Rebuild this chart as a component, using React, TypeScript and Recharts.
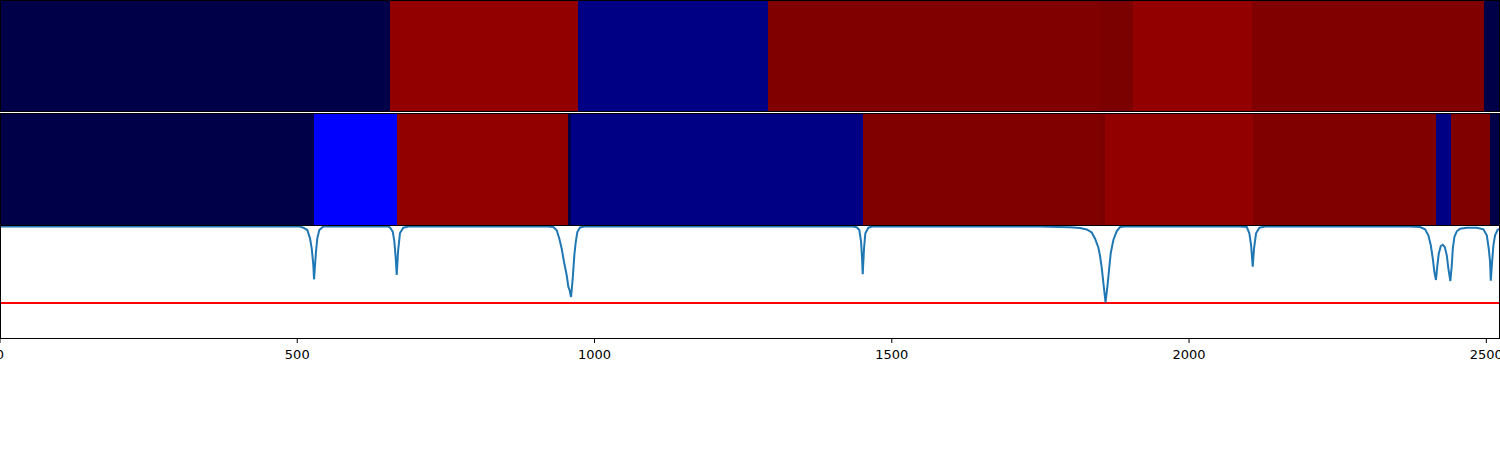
import React from 'react';
import { BarChart, Bar, LineChart, Line, XAxis, YAxis, ReferenceLine } from 'recharts';

// ---------- data ----------
const X_MAX = 2523;
const X_TICKS = [0, 500, 1000, 1500, 2000, 2500];
const THRESHOLD = 0.3125;

// state label -> colour (colormap lookup)
const STATE_COLORS: Record<string, string> = {
  A: '#000048',
  B: '#000085',
  C: '#0000ff',
  D: '#930000',
  E: '#800000',
  F: '#7b0000',
};

// top row: segment boundaries and states
const ROW1_BOUNDS = [0, 656, 972, 1292, 1852, 1906, 2106, 2496, 2523];
const ROW1_STATES = ['A', 'D', 'B', 'E', 'F', 'D', 'E', 'A'];

// second row: segment boundaries and states
const ROW2_BOUNDS = [0, 528, 668, 956, 960.5, 1451.6, 1850.3, 1858.7, 2106.8, 2415.5, 2440.7, 2506.3, 2523];
const ROW2_STATES = ['A', 'C', 'D', 'A', 'B', 'E', 'F', 'D', 'E', 'B', 'E', 'A'];

// bottom panel signal
const SIGNAL_X = [
  0, 504.6, 510.2, 516.9, 521.4, 524.3, 527.0, 528.2, 531.5, 533.7, 537.1, 543.8,
  652.6, 656.0, 660.6, 663.3, 665.6, 667.3, 669.5, 672.8, 678.4, 686.3,
  921.8, 930.7, 936.4, 940.8, 944.8, 948.7, 953.2, 955.9, 958.0, 960.5, 963.3, 966.0, 968.4, 971.1, 975.6, 982.3,
  1434.8, 1441.0, 1445.4, 1448.3, 1450.0, 1451.1, 1453.3, 1455.5, 1460.6, 1466.8,
  1749.4, 1799.8, 1816.7, 1827.9, 1836.3, 1841.9, 1847.4, 1850.3, 1853.2, 1855.9, 1859.5, 1862.9, 1865.4, 1868.3, 1872.7, 1878.4, 1884.0, 1892.3,
  2085.8, 2097.1, 2101.4, 2104.3, 2106.0, 2107.1, 2109.3, 2112.7, 2118.3, 2127.8,
  2371.7, 2388.6, 2397.0, 2402.5, 2406.6, 2410.0, 2412.6, 2415.3, 2417.7, 2420.0, 2423.4, 2426.7, 2430.1, 2433.5, 2436.2, 2439.5,
  2441.9, 2443.6, 2446.3, 2450.3, 2455.9, 2467.1, 2484.0, 2495.1, 2500.8, 2504.1, 2506.3, 2507.5, 2509.7, 2511.9, 2514.7, 2518.6, 2523,
];
const SIGNAL_Y = [
  0.995, 0.995, 0.985, 0.964, 0.890, 0.801, 0.652, 0.524, 0.771, 0.890, 0.964, 0.995,
  0.995, 0.987, 0.949, 0.860, 0.714, 0.5625, 0.771, 0.9375, 0.985, 0.995,
  0.995, 0.991, 0.962, 0.887, 0.797, 0.679, 0.560, 0.458, 0.429, 0.366, 0.529, 0.738, 0.857, 0.946, 0.987, 0.995,
  0.995, 0.989, 0.964, 0.860, 0.712, 0.569, 0.801, 0.935, 0.985, 0.995,
  0.995, 0.988, 0.982, 0.969, 0.942, 0.887, 0.808, 0.732, 0.625, 0.491, 0.317, 0.473, 0.607, 0.759, 0.875, 0.955, 0.991, 0.995,
  0.995, 0.991, 0.935, 0.830, 0.712, 0.637, 0.801, 0.935, 0.985, 0.995,
  0.995, 0.991, 0.971, 0.917, 0.828, 0.708, 0.589, 0.518, 0.649, 0.753, 0.821, 0.833, 0.8125, 0.738, 0.619, 0.509,
  0.649, 0.797, 0.902, 0.953, 0.976, 0.985, 0.985, 0.971, 0.917, 0.797, 0.679, 0.512, 0.679, 0.828, 0.917, 0.962, 0.976,
];

// ---------- components ----------
function SegmentRow({ bounds, states, height }: { bounds: number[]; states: string[]; height: number }) {
  const row: Record<string, number | string> = { row: 'r' };
  bounds.slice(1).forEach((b, i) => {
    row[`s${i}`] = b - bounds[i];
  });
  return (
    <BarChart
      width={1500}
      height={height}
      data={[row]}
      layout="vertical"
      margin={{ top: 0, right: 0, bottom: 0, left: 0 }}
      barCategoryGap={0}
      barGap={0}
    >
      <XAxis type="number" domain={[0, X_MAX]} hide allowDataOverflow />
      <YAxis type="category" dataKey="row" hide />
      {states.map((s, i) => (
        <Bar key={i} dataKey={`s${i}`} stackId="a" fill={STATE_COLORS[s]} isAnimationActive={false} />
      ))}
    </BarChart>
  );
}

const box = (top: number, height: number): React.CSSProperties => ({
  position: 'absolute',
  left: 0,
  top,
  width: 1500,
  height,
  border: '1px solid #000',
  boxSizing: 'border-box',
  pointerEvents: 'none',
});

export default function App() {
  const signal = SIGNAL_X.map((x, i) => ({ x, y: SIGNAL_Y[i] }));
  return (
    <div style={{ position: 'absolute', left: 0, top: 0, width: 1500, height: 450, background: '#fff', overflow: 'hidden' }}>
      <div style={{ position: 'absolute', left: 0, top: 0, shapeRendering: 'crispEdges' } as React.CSSProperties}>
        <SegmentRow bounds={ROW1_BOUNDS} states={ROW1_STATES} height={112} />
      </div>
      <div style={{ position: 'absolute', left: 0, top: 113, shapeRendering: 'crispEdges' } as React.CSSProperties}>
        <SegmentRow bounds={ROW2_BOUNDS} states={ROW2_STATES} height={113} />
      </div>
      <div style={{ position: 'absolute', left: 0, top: 226 }}>
        <LineChart width={1500} height={152} data={signal} margin={{ top: 0, right: 0, bottom: 0, left: 0 }}>
          <XAxis
            dataKey="x"
            type="number"
            domain={[0, X_MAX]}
            allowDataOverflow
            ticks={X_TICKS}
            interval={0}
            height={40}
            axisLine={false}
            tickLine={{ stroke: '#000' }}
            tickSize={5}
            tickMargin={7}
            tick={{ fill: '#000', fontSize: 13, fontFamily: 'DejaVu Sans' }}
          />
          <YAxis type="number" domain={[0, 1]} hide allowDataOverflow />
          <ReferenceLine y={THRESHOLD} stroke="#ff0000" strokeWidth={2} ifOverflow="visible" />
          <Line
            type="linear"
            dataKey="y"
            stroke="#1f77b4"
            strokeWidth={2}
            dot={false}
            isAnimationActive={false}
          />
        </LineChart>
      </div>
      <div style={box(0, 112)} />
      <div style={box(113, 113)} />
      <div style={box(225, 114)} />
    </div>
  );
}
